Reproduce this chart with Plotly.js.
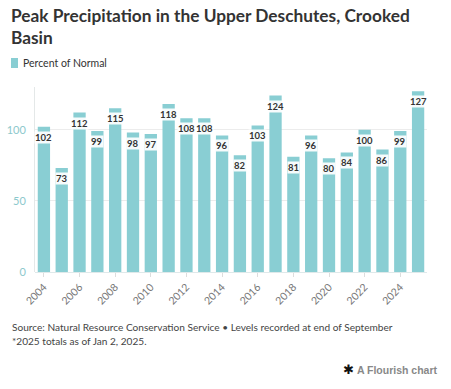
<!DOCTYPE html>
<html><head><meta charset="utf-8">
<script src="https://cdn.plot.ly/plotly-3.0.1.min.js"></script>
<style>html,body{margin:0;padding:0;background:#fff}#chart{width:451px;height:389px}</style>
</head><body><div id="chart"></div>
<script>
const years = [2004,2005,2006,2007,2008,2009,2010,2011,2012,2013,2014,2015,2016,2017,2018,2019,2020,2021,2022,2023,2024,2025];
const percentOfNormal = [102,73,112,99,115,98,97,118,108,108,96,82,103,124,81,96,80,84,100,86,99,127];
const tickYears = [2004,2006,2008,2010,2012,2014,2016,2018,2020,2022,2024];
const yTicks = [0,50,100];
const titleText = 'Peak Precipitation in the Upper Deschutes, Crooked<br>Basin';
const seriesName = 'Percent of Normal';
const sourceLines = ['Source: Natural Resource Conservation Service • Levels recorded at end of September', '*2025 totals as of Jan 2, 2025.'];

const FONT = 'Lato, "Open Sans", sans-serif';
const BAR = '#89ced3';
// plot area in pixels: left 35, right 427, top 87, bottom 272
const px = v => (v-35)/392;
const py = v => (272-v)/185;

const labelAnns = years.map((y,i)=>({
  x:y, y:percentOfNormal[i], xref:'x', yref:'y', text:'<b>'+percentOfNormal[i]+'</b>',
  showarrow:false, yanchor:'top', yshift:-4, bgcolor:'rgba(255,255,255,0.92)', borderpad:0,
  font:{family:FONT, size:9.5, color:'#333'}
}));

const layout = {
  width:451, height:389,
  margin:{l:35, r:24, t:87, b:117},
  paper_bgcolor:'#fff', plot_bgcolor:'#fff',
  showlegend:false,
  bargap:0.31,
  xaxis:{range:[2003.5,2025.5], tickvals:tickYears, ticktext:tickYears.map(String), tickangle:-45,
    tickfont:{family:FONT, size:10.5, color:'#777'}, showgrid:false, zeroline:false, showline:false,
    ticks:'outside', ticklen:4, tickcolor:'#ddd', fixedrange:true},
  yaxis:{range:[0,130], tickvals:yTicks, tickfont:{family:FONT, size:11, color:'#8cc8cc'},
    showgrid:true, gridcolor:'#ececec', gridwidth:1, zeroline:true, zerolinecolor:'#dfe9ea',
    showline:true, linecolor:'#e4e8e8', ticks:'', ticklabelstandoff:6},
  shapes:[
    {type:'rect', xref:'paper', yref:'paper', x0:px(11), x1:px(18), y0:py(68), y1:py(58),
     fillcolor:BAR, line:{width:0}}
  ],
  annotations: labelAnns.concat([
    {xref:'paper', yref:'paper', x:px(9), y:py(3), xanchor:'left', yanchor:'top', align:'left', showarrow:false,
     text:'<b>'+titleText+'</b>', font:{family:FONT, size:17.3, color:'#333'}},
    {xref:'paper', yref:'paper', x:px(21), y:py(63), xanchor:'left', yanchor:'middle', showarrow:false,
     text:seriesName, font:{family:FONT, size:10.5, color:'#333'}},
    {xref:'paper', yref:'paper', x:px(10), y:py(327), xanchor:'left', yanchor:'middle', showarrow:false,
     text:sourceLines[0], font:{family:FONT, size:10.1, color:'#444'}},
    {xref:'paper', yref:'paper', x:px(10), y:py(341), xanchor:'left', yanchor:'middle', showarrow:false,
     text:sourceLines[1], font:{family:FONT, size:10.1, color:'#444'}},
    {xref:'paper', yref:'paper', x:px(440), y:py(369), xanchor:'right', yanchor:'middle', showarrow:false,
     text:'<span style="color:#111;font-size:13px">✱</span> <b>A Flourish chart</b>', font:{family:'"Liberation Sans", Arial, sans-serif', size:10.5, color:'#888'}}
  ])
};

Plotly.newPlot('chart', [{
  type:'bar', x:years, y:percentOfNormal, name:seriesName,
  marker:{color:BAR, line:{width:0}}, hoverinfo:'x+y'
}], layout, {displayModeBar:false, staticPlot:true});
</script></body></html>
